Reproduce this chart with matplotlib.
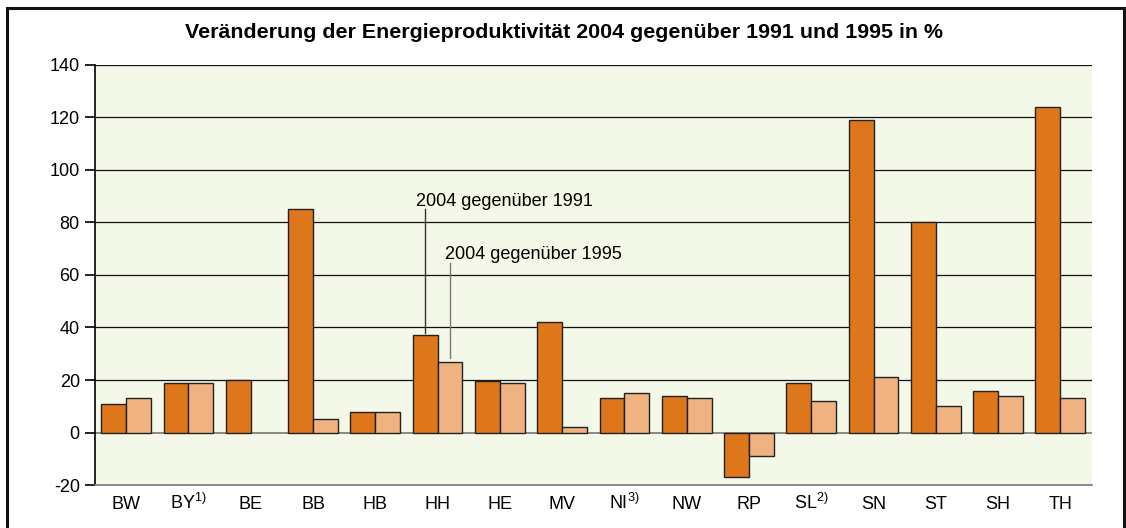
import numpy as np
import matplotlib.pyplot as plt
from matplotlib.patches import Rectangle

plt.rcParams['font.family'] = ['Liberation Sans', 'DejaVu Sans']
plt.rcParams['mathtext.fontset'] = 'custom'
plt.rcParams['mathtext.rm'] = 'Liberation Sans'
plt.rcParams['axes.unicode_minus'] = False

laender = ["BW", "BY$^{1)}$", "BE", "BB", "HB", "HH", "HE", "MV",
           "NI$^{3)}$", "NW", "RP", "SL$^{2)}$", "SN", "ST", "SH", "TH"]
v1991 = [11, 19, 20, 85, 8, 37, 19.5, 42, 13, 14, -17, 19, 119, 80, 16, 124]
v1995 = [13, 19, np.nan, 5, 8, 27, 19, 2, 15, 13, -9, 12, 21, 10, 14, 13]

dark = "#DE761C"
light = "#EFB280"
bg = "#F4F8E8"

fig = plt.figure(figsize=(11.26, 5.28), dpi=100)
ax = fig.add_axes([0.0844, 0.0814, 0.8850, 0.7956])
ax.set_facecolor(bg)

x = np.arange(len(laender))
w = 0.4
ax.bar(x - w / 2, v1991, w, color=dark, edgecolor="#222222", linewidth=1, zorder=3)
ax.bar(x + w / 2, v1995, w, color=light, edgecolor="#222222", linewidth=1, zorder=3)

ax.set_xlim(-0.5, len(laender) - 0.5)
ax.set_ylim(-20, 140)
ax.set_yticks(np.arange(-20, 141, 20))
ax.set_xticks(x)
ax.set_xticklabels(laender, va="baseline")
ax.tick_params(axis="x", length=0, labelsize=13, pad=17.5)
ax.tick_params(axis="y", length=7, width=1.2, labelsize=13, pad=4)

for yv in range(20, 141, 20):
    ax.axhline(yv, color="#111111", linewidth=0.9, zorder=1)
ax.axhline(0, color="#777777", linewidth=1.2, zorder=2)

for s in ["top", "right"]:
    ax.spines[s].set_visible(False)
ax.spines["left"].set_linewidth(1.2)
ax.spines["bottom"].set_color("#777777")
ax.spines["bottom"].set_linewidth(1.2)

# annotations for the HH pair
i = laender.index("HH")
ax.plot([i - w / 2, i - w / 2], [v1991[i] + 1, 85], color="#333333", linewidth=1, zorder=4)
ax.plot([i + w / 2, i + w / 2], [v1995[i] + 1.5, 64.7], color="#777777", linewidth=1, zorder=4)
ax.text(i - 0.35, 86.3, "2004 gegenüber 1991", fontsize=13, va="baseline", ha="left")
ax.text(i + 0.12, 66.1, "2004 gegenüber 1995", fontsize=13, va="baseline", ha="left")

fig.text(0.5013, 0.938, "Veränderung der Energieproduktivität 2004 gegenüber 1991 und 1995 in %",
         ha="center", va="center", fontsize=15.4, fontweight="bold")

fig.patches.append(Rectangle((0.0066, -0.02), 0.9915, 1.004, transform=fig.transFigure,
                             fill=False, edgecolor="#111111", linewidth=2.2))

fig.savefig("out.png", dpi=100)
